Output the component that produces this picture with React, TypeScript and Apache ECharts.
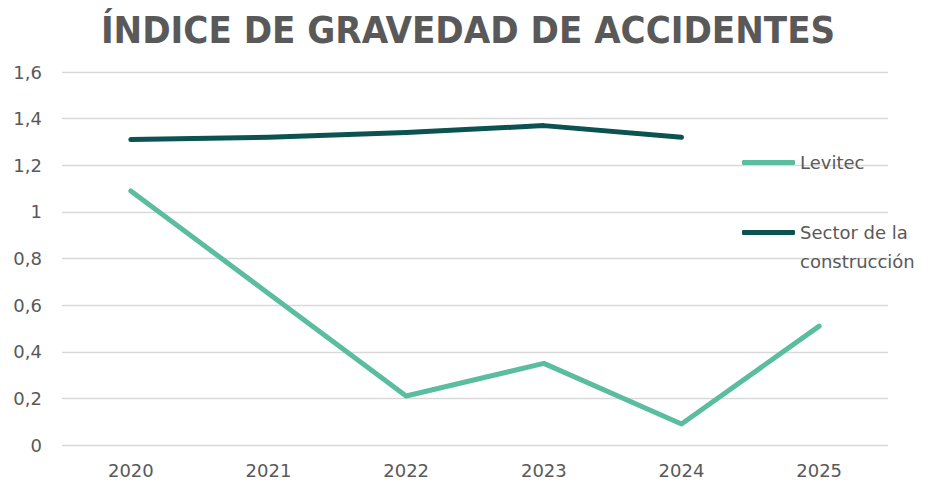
import React, { useEffect, useRef } from "react";
import * as echarts from "echarts";

const title = "ÍNDICE DE GRAVEDAD DE ACCIDENTES";
const years = ["2020", "2021", "2022", "2023", "2024", "2025"];
const levitec = [1.09, 0.65, 0.21, 0.35, 0.09, 0.51];
const sector = [1.31, 1.32, 1.34, 1.37, 1.32, null];
const seriesNames = ["Levitec", "Sector de la\nconstrucción"];

const LIGHT = "#5BBD9F";
const DARK = "#0B5250";
const TEXT = "#595959";

export default function App() {
  const ref = useRef<HTMLDivElement>(null);
  useEffect(() => {
    if (!ref.current) return;
    const chart = echarts.init(ref.current, null, { renderer: "svg" });
    chart.setOption({
      animation: false,
      title: {
        text: title,
        left: "center",
        top: 6,
        textStyle: {
          fontFamily: "'DejaVu Sans Condensed', 'Liberation Sans Narrow', sans-serif",
          fontWeight: "bold",
          fontSize: 38,
          color: TEXT,
        },
      },
      grid: { left: 62, right: 48, top: 72, bottom: 43, containLabel: false },
      legend: {
        orient: "vertical",
        left: 742,
        top: 148,
        padding: 0,
        itemGap: 12,
        itemWidth: 53,
        itemHeight: 5,
        icon: "roundRect",
        textStyle: { fontFamily: "DejaVu Sans", fontSize: 18, color: TEXT, lineHeight: 29 },
        formatter: (name: string) => (name === seriesNames[1] ? "\n" + name : name),
        data: [seriesNames[0], seriesNames[1]],
      },
      xAxis: {
        type: "category",
        data: years,
        boundaryGap: true,
        axisLine: { show: false },
        axisTick: { show: false },
        axisLabel: { fontFamily: "DejaVu Sans", fontSize: 18, color: TEXT, margin: 16 },
      },
      yAxis: {
        type: "value",
        min: 0,
        max: 1.6,
        interval: 0.2,
        axisLine: { show: false },
        axisTick: { show: false },
        splitLine: { lineStyle: { color: "#D9D9D9", width: 1.3 } },
        axisLabel: {
          fontFamily: "DejaVu Sans",
          fontSize: 18,
          color: TEXT,
          margin: 20,
          formatter: (v: number) => String(+v.toFixed(1)).replace(".", ","),
        },
      },
      series: [
        {
          name: seriesNames[0],
          type: "line",
          data: levitec,
          showSymbol: false,
          symbol: "none",
          color: LIGHT,
          lineStyle: { color: LIGHT, width: 5, cap: "round", join: "round" },
        },
        {
          name: seriesNames[1],
          type: "line",
          data: sector,
          showSymbol: false,
          symbol: "none",
          color: DARK,
          lineStyle: { color: DARK, width: 5, cap: "round", join: "round" },
        },
      ],
    });
    return () => chart.dispose();
  }, []);
  return <div ref={ref} style={{ width: 936, height: 488, margin: -8, background: "#fff" }} />;
}
